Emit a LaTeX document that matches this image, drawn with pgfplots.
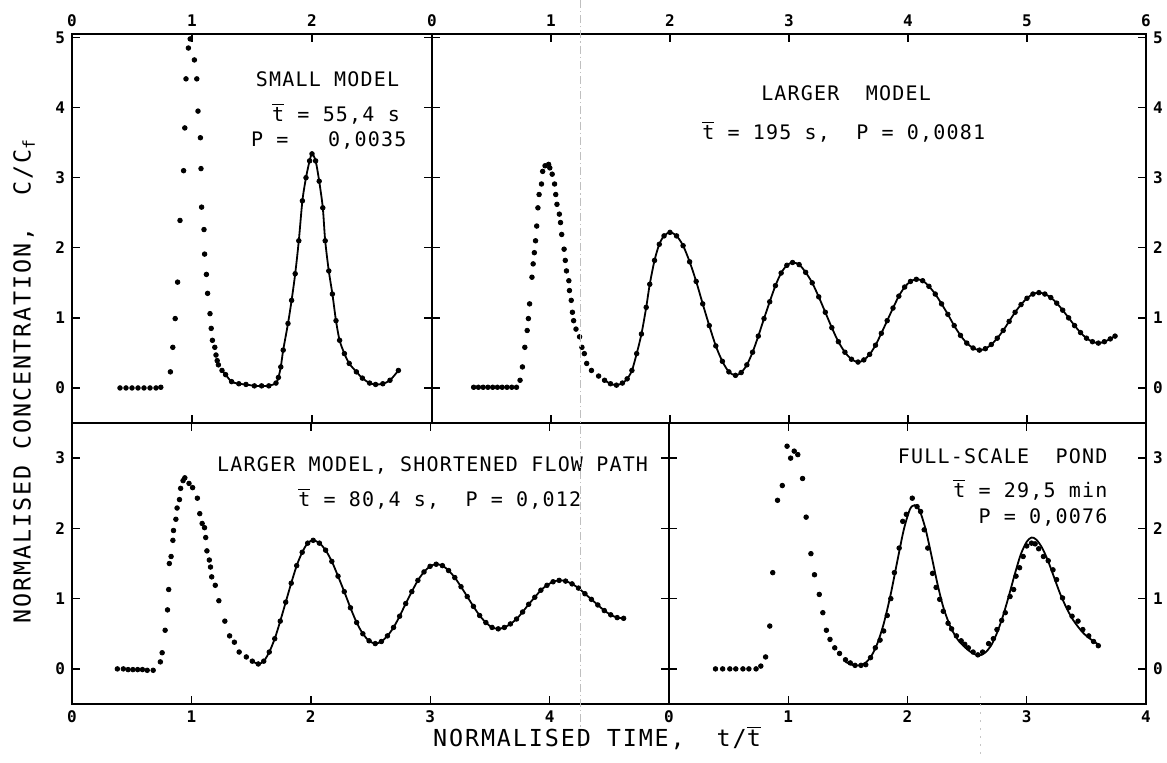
\documentclass[border=0pt]{standalone}
\usepackage{fontspec}
\setmainfont{DejaVu Sans Mono}
\newfontfamily\labfont[LetterSpace=8]{DejaVu Sans Mono}
\newfontfamily\notefont[LetterSpace=6]{DejaVu Sans Mono}
\usepackage{pgfplots}
\usepackage{pgfplotstable}
\pgfplotsset{compat=1.18}

\newcommand\tbar{$\overline{\mbox{t}}$}

% small model
\pgfplotstableread{
x y
0.40 0.00
0.45 0.00
0.50 0.00
0.55 0.00
0.60 0.00
0.65 0.00
0.70 0.00
0.74 0.01
0.82 0.23
0.84 0.58
0.86 0.99
0.88 1.51
0.90 2.39
0.93 3.10
0.94 3.71
0.95 4.41
0.97 4.85
0.985 4.98
1.02 4.68
1.04 4.41
1.05 3.95
1.07 3.57
1.075 3.13
1.08 2.58
1.10 2.26
1.105 1.91
1.12 1.62
1.13 1.35
1.15 1.06
1.16 0.85
1.17 0.68
1.19 0.58
1.20 0.47
1.21 0.39
1.22 0.33
1.25 0.25
1.28 0.19
1.33 0.09
1.39 0.06
1.45 0.05
1.52 0.03
1.58 0.03
1.64 0.03
1.70 0.07
1.72 0.15
1.74 0.30
1.76 0.54
1.80 0.92
1.83 1.25
1.86 1.63
1.89 2.10
1.92 2.67
1.95 3.00
1.98 3.24
2.00 3.34
2.03 3.24
2.06 2.95
2.09 2.57
2.11 2.10
2.14 1.67
2.17 1.34
2.20 0.96
2.23 0.68
2.27 0.49
2.31 0.35
2.37 0.23
2.42 0.14
2.48 0.07
2.53 0.05
2.59 0.06
2.65 0.11
2.72 0.25
}\tl

% larger model
\pgfplotstableread{
x y
0.35 0.01
0.39 0.01
0.43 0.01
0.47 0.01
0.51 0.01
0.55 0.01
0.59 0.01
0.63 0.01
0.67 0.01
0.71 0.01
0.74 0.11
0.76 0.30
0.78 0.58
0.80 0.82
0.81 0.99
0.82 1.20
0.84 1.58
0.85 1.77
0.86 1.93
0.87 2.10
0.88 2.31
0.89 2.57
0.90 2.76
0.92 2.91
0.93 3.09
0.95 3.17
0.98 3.19
0.99 3.14
1.01 3.05
1.03 2.91
1.04 2.76
1.05 2.62
1.07 2.48
1.08 2.36
1.09 2.19
1.11 1.98
1.12 1.82
1.13 1.67
1.15 1.53
1.155 1.39
1.17 1.25
1.18 1.08
1.19 0.96
1.21 0.84
1.24 0.73
1.26 0.58
1.28 0.49
1.30 0.35
1.34 0.25
1.40 0.17
1.45 0.11
1.50 0.06
1.55 0.04
1.60 0.07
1.64 0.13
1.68 0.25
1.72 0.49
1.76 0.77
1.80 1.15
1.83 1.48
1.87 1.82
1.91 2.05
1.95 2.17
2.00 2.22
2.055 2.17
2.11 2.03
2.165 1.80
2.22 1.52
2.275 1.20
2.33 0.89
2.385 0.60
2.44 0.38
2.495 0.23
2.55 0.18
2.598 0.22
2.646 0.33
2.694 0.51
2.742 0.74
2.79 0.99
2.838 1.23
2.886 1.46
2.934 1.64
2.982 1.75
3.03 1.79
3.085 1.76
3.14 1.65
3.195 1.50
3.25 1.30
3.305 1.08
3.36 0.86
3.415 0.66
3.47 0.51
3.525 0.41
3.58 0.37
3.629 0.40
3.678 0.48
3.727 0.61
3.776 0.78
3.825 0.96
3.874 1.14
3.923 1.31
3.972 1.44
4.021 1.52
4.07 1.55
4.123 1.53
4.176 1.45
4.229 1.34
4.282 1.20
4.335 1.05
4.388 0.89
4.441 0.75
4.494 0.64
4.547 0.57
4.60 0.54
4.65 0.56
4.70 0.62
4.75 0.71
4.80 0.82
4.85 0.95
4.90 1.08
4.95 1.19
5.00 1.28
5.05 1.34
5.10 1.36
5.15 1.34
5.20 1.29
5.25 1.21
5.30 1.11
5.35 1.00
5.40 0.89
5.45 0.79
5.50 0.71
5.55 0.66
5.60 0.64
5.65 0.66
5.70 0.70
5.74 0.74
}\tr

% larger model, shortened flow path
\pgfplotstableread{
x y
0.38 0.00
0.43 0.00
0.47 -0.01
0.51 -0.01
0.55 -0.01
0.59 -0.01
0.63 -0.02
0.68 -0.02
0.74 0.10
0.755 0.23
0.78 0.55
0.80 0.84
0.81 1.13
0.815 1.50
0.83 1.60
0.845 1.83
0.85 1.97
0.87 2.13
0.88 2.29
0.90 2.41
0.91 2.57
0.93 2.68
0.945 2.72
0.98 2.64
1.01 2.58
1.05 2.43
1.07 2.21
1.09 2.07
1.11 2.01
1.12 1.87
1.13 1.68
1.15 1.55
1.16 1.45
1.17 1.31
1.20 1.19
1.23 0.97
1.28 0.68
1.32 0.47
1.36 0.38
1.40 0.24
1.46 0.17
1.51 0.11
1.56 0.07
1.606 0.11
1.652 0.24
1.698 0.43
1.744 0.68
1.79 0.95
1.836 1.22
1.882 1.47
1.928 1.66
1.974 1.79
2.02 1.83
2.072 1.79
2.124 1.69
2.176 1.53
2.228 1.32
2.28 1.10
2.332 0.87
2.384 0.66
2.436 0.50
2.488 0.40
2.54 0.36
2.591 0.39
2.642 0.47
2.693 0.59
2.744 0.75
2.795 0.93
2.846 1.10
2.897 1.26
2.948 1.38
2.999 1.46
3.05 1.49
3.102 1.47
3.154 1.40
3.206 1.30
3.258 1.17
3.31 1.03
3.362 0.89
3.414 0.76
3.466 0.66
3.518 0.59
3.57 0.57
3.621 0.59
3.672 0.64
3.723 0.71
3.774 0.81
3.825 0.92
3.876 1.02
3.927 1.12
3.978 1.19
4.029 1.24
4.08 1.26
4.134 1.25
4.188 1.21
4.242 1.15
4.296 1.07
4.35 0.99
4.404 0.91
4.458 0.83
4.512 0.77
4.566 0.73
4.62 0.72
}\bl

% full-scale pond, measured
\pgfplotstableread{
x y
0.39 0.00
0.45 0.00
0.51 0.00
0.56 0.00
0.62 0.00
0.67 0.00
0.73 0.00
0.77 0.04
0.81 0.17
0.845 0.61
0.87 1.37
0.91 2.40
0.95 2.61
0.99 3.17
1.02 3.00
1.05 3.10
1.08 3.05
1.12 2.71
1.15 2.16
1.19 1.64
1.22 1.34
1.26 1.06
1.29 0.80
1.32 0.55
1.35 0.42
1.39 0.30
1.43 0.22
1.48 0.13
1.52 0.085
1.56 0.05
1.61 0.05
1.65 0.06
1.69 0.16
1.73 0.30
1.77 0.41
1.80 0.54
1.83 0.76
1.86 1.00
1.89 1.37
1.93 1.72
1.96 2.10
1.99 2.20
2.04 2.43
2.08 2.31
2.11 2.24
2.14 1.98
2.17 1.72
2.21 1.36
2.24 1.16
2.27 0.99
2.30 0.82
2.34 0.65
2.37 0.57
2.41 0.47
2.45 0.40
2.48 0.35
2.51 0.30
2.55 0.24
2.59 0.20
2.63 0.24
2.68 0.36
2.72 0.43
2.75 0.56
2.79 0.69
2.82 0.80
2.86 1.03
2.89 1.13
2.91 1.32
2.94 1.44
2.97 1.60
3.00 1.75
3.04 1.79
3.07 1.78
3.10 1.71
3.14 1.60
3.18 1.54
3.22 1.41
3.25 1.27
3.30 1.01
3.35 0.87
3.38 0.75
3.43 0.68
3.47 0.56
3.52 0.47
3.56 0.39
3.60 0.33
}\brdots

% full-scale pond, model curve
\pgfplotstableread{
x y
1.48 0.10
1.55 0.05
1.62 0.06
1.68 0.14
1.74 0.33
1.80 0.64
1.86 1.07
1.92 1.58
1.97 1.99
2.02 2.27
2.06 2.33
2.10 2.26
2.15 2.00
2.20 1.62
2.25 1.22
2.30 0.88
2.36 0.60
2.42 0.42
2.48 0.31
2.54 0.23
2.60 0.19
2.65 0.23
2.70 0.33
2.75 0.51
2.80 0.75
2.85 1.04
2.90 1.35
2.95 1.63
3.00 1.81
3.04 1.87
3.08 1.84
3.13 1.72
3.18 1.53
3.23 1.30
3.28 1.07
3.33 0.88
3.38 0.72
3.43 0.60
3.48 0.50
3.53 0.43
3.58 0.37
3.61 0.34
}\brline

\pgfplotsset{
  panel/.style={
    scale only axis,
    anchor=south west,
    axis line style={line width=1.3pt},
    tick style={line width=0.7pt, black},
    tick align=inside,
    major tick length=4pt,
    ticklabel style={font=\bfseries\fontsize{8}{9}\selectfont},
    /pgf/number format/assume math mode=true,
    clip=false,
  },
  dots/.style={only marks, mark=*, mark size=1.15pt, black},
  fit/.style={no marks, line width=0.9pt, black, smooth},
}
\tikzset{note/.style={font=\notefont\fontsize{10}{12}\selectfont, inner sep=0pt}}

\begin{document}
\begin{tikzpicture}
\path[use as bounding box] (0,0) rectangle (583.5pt,-381pt);

\begin{axis}[panel, at={(36pt,-211.5pt)}, width=180pt, height=194.5pt,
  xmin=0, xmax=3, ymin=-0.5, ymax=5.05,
  xtick={0,1,2}, ytick={0,...,5},
  xticklabel pos=right, yticklabel pos=left]
\addplot[dots] table {\tl};
\addplot[fit, restrict x to domain=1.25:3] table {\tl};
\node[note] at (axis cs:2.13,4.40) {SMALL MODEL};
\node[note] at (axis cs:2.20,3.91) {\tbar{} = 55,4 s};
\node[note] at (axis cs:2.14,3.53) {P =\ \ \ 0,0035};
\end{axis}

\begin{axis}[panel, at={(216pt,-211.5pt)}, width=357pt, height=194.5pt,
  xmin=0, xmax=6, ymin=-0.5, ymax=5.05,
  xtick={0,...,6}, ytick={0,...,5},
  xticklabel pos=right, yticklabel pos=right]
\addplot[dots] table {\tr};
\addplot[fit, restrict x to domain=1.42:6] table {\tr};
\node[note] at (axis cs:3.48,4.21) {LARGER\ \ MODEL};
\node[note] at (axis cs:3.46,3.66) {\tbar{} = 195 s,\ \ P = 0,0081};
\end{axis}

\begin{axis}[panel, at={(36pt,-352pt)}, width=298.5pt, height=140.5pt,
  xmin=0, xmax=5, ymin=-0.5, ymax=3.5,
  xtick={0,...,4}, ytick={0,...,3},
  xticklabel pos=left, yticklabel pos=left]
\addplot[dots] table {\bl};
\addplot[fit, restrict x to domain=1.5:5] table {\bl};
\node[note] at (axis cs:3.02,2.89) {LARGER MODEL, SHORTENED FLOW PATH};
\node[note] at (axis cs:3.08,2.42) {\tbar{} = 80,4 s,\ \ P = 0,012};
\end{axis}

\begin{axis}[panel, at={(334.5pt,-352pt)}, width=238.5pt, height=140.5pt,
  xmin=0, xmax=4, ymin=-0.5, ymax=3.5,
  xtick={0,...,4}, ytick={0,...,3},
  xticklabel pos=left, yticklabel pos=right]
\addplot[dots] table {\brdots};
\addplot[fit] table {\brline};
\node[note, anchor=east] at (axis cs:3.68,3.03) {FULL-SCALE\ \ POND};
\node[note, anchor=east] at (axis cs:3.68,2.55) {\tbar{} = 29,5 min};
\node[note, anchor=east] at (axis cs:3.68,2.15) {P = 0,0076};
\end{axis}

\draw[gray!50, line width=0.4pt, dash pattern=on 4pt off 1.5pt on 0.6pt off 1.5pt] (290pt,0pt) -- (290pt,-374pt);
\draw[gray!45, line width=0.4pt, dash pattern=on 1pt off 3pt] (490pt,-348pt) -- (490pt,-378pt);

\node[font=\labfont\fontsize{11.7}{14}\selectfont] at (298.5pt,-369pt) {NORMALISED TIME,\ \ t/\tbar};
\node[rotate=90, font=\labfont\fontsize{11.7}{14}\selectfont] at (12pt,-190.5pt) {NORMALISED CONCENTRATION,\ \ C/C\textsubscript{f}};
\end{tikzpicture}
\end{document}
